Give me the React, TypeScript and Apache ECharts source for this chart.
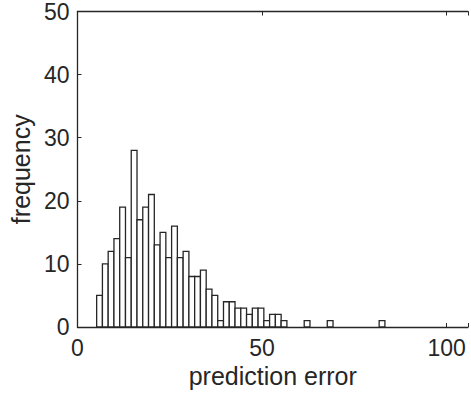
import React, { useEffect, useRef } from "react";
import * as echarts from "echarts";

// Histogram: 50 equal bins starting at binStart
const binStart = 5.19;
const binWidth = 1.562;
const counts = [
  5, 10, 12, 14, 19, 11, 28, 17, 19, 21,
  13, 15, 11, 16, 11, 12, 8, 8, 9, 6,
  5, 1, 4, 4, 3, 3, 2, 3, 3, 1,
  2, 2, 1, 0, 0, 0, 1, 0, 0, 0,
  1, 0, 0, 0, 0, 0, 0, 0, 0, 1,
];
const xTickValues = [0, 50, 100];
const yTickValues = [0, 10, 20, 30, 40, 50];
const xLabel = "prediction error";
const yLabel = "frequency";

const INK = "#262626";
const FONT = "'Liberation Sans', Arial, Helvetica, sans-serif";

export default function App() {
  const ref = useRef<HTMLDivElement>(null);
  useEffect(() => {
    if (!ref.current) return;
    const chart = echarts.init(ref.current, undefined, { renderer: "svg" });
    const data = counts
      .map((c, i) => [binStart + i * binWidth, binStart + (i + 1) * binWidth, c])
      .filter((d) => d[2] > 0);
    const labelFmt = (vals: number[]) => (v: number) =>
      vals.some((t) => Math.abs(t - v) < 1e-6) ? String(v) : "";
    chart.setOption({
      animation: false,
      backgroundColor: "#ffffff",
      grid: { left: 77.5, top: 11, bottom: 67, right: 0, containLabel: false },
      xAxis: [
        {
          type: "value",
          min: 0,
          max: 105.8,
          interval: 50,
          name: xLabel,
          nameLocation: "middle",
          nameGap: 24,
          nameTextStyle: { color: INK, fontSize: 25, fontFamily: FONT },
          axisLine: { show: true, lineStyle: { color: INK, width: 1.3 } },
          axisTick: { show: true, inside: true, length: 4, lineStyle: { color: INK } },
          axisLabel: {
            color: INK,
            fontSize: 23,
            fontFamily: FONT,
            margin: 9,
            formatter: labelFmt(xTickValues),
          },
          splitLine: { show: false },
        },
        {
          type: "value",
          position: "top",
          min: 0,
          max: 105.8,
          interval: 50,
          axisLine: { show: true, lineStyle: { color: INK, width: 1.3 } },
          axisTick: { show: true, inside: true, length: 4, lineStyle: { color: INK } },
          axisLabel: { show: false },
          splitLine: { show: false },
        },
      ],
      yAxis: {
        type: "value",
        min: 0,
        max: 50,
        interval: 10,
        name: yLabel,
        nameLocation: "middle",
        nameGap: 34,
        nameTextStyle: { color: INK, fontSize: 25, fontFamily: FONT },
        axisLine: { show: true, lineStyle: { color: INK, width: 1.3 } },
        axisTick: { show: true, inside: true, length: 4, lineStyle: { color: INK } },
        axisLabel: {
          color: INK,
          fontSize: 23,
          fontFamily: FONT,
          margin: 8,
          formatter: labelFmt(yTickValues),
        },
        splitLine: { show: false },
      },
      series: [
        {
          type: "custom",
          xAxisIndex: 0,
          yAxisIndex: 0,
          encode: { x: [0, 1], y: 2 },
          data,
          renderItem: (params: any, api: any) => {
            const p0 = api.coord([api.value(0), api.value(2)]);
            const p1 = api.coord([api.value(1), 0]);
            return {
              type: "rect",
              shape: { x: p0[0], y: p0[1], width: p1[0] - p0[0], height: p1[1] - p0[1] },
              style: { fill: "#ffffff", stroke: INK, lineWidth: 1.3 },
            };
          },
        },
      ],
    });
    return () => chart.dispose();
  }, []);
  return (
    <div
      ref={ref}
      style={{ position: "fixed", left: 0, top: 0, width: 471, height: 394, background: "#fff" }}
    />
  );
}
